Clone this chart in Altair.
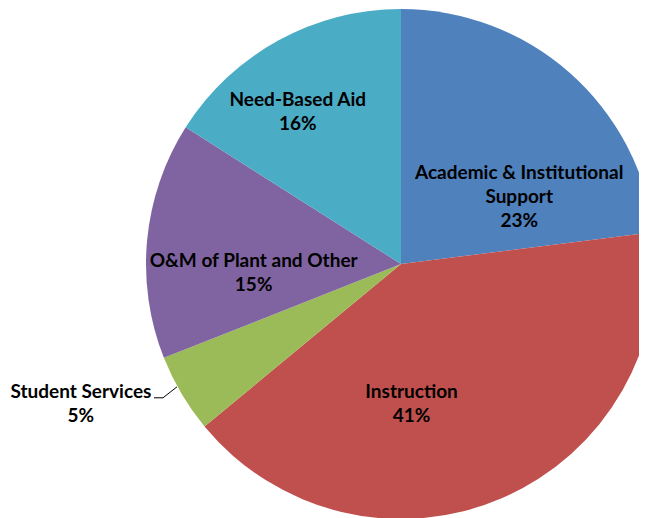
import altair as alt
import pandas as pd
import numpy as np

categories = ["Academic & Institutional Support", "Instruction", "Student Services",
              "O&M of Plant and Other", "Need-Based Aid"]
shares = [23, 41, 5, 15, 16]
label_lines = [["Academic & Institutional", "Support", "23%"],
               ["Instruction", "41%"],
               ["Student Services", "5%"],
               ["O&M of Plant and Other", "15%"],
               ["Need-Based Aid", "16%"]]
colors = ["#4F81BD", "#C0504D", "#9BBB59", "#8064A2", "#4BACC6"]

df = pd.DataFrame({"cat": categories, "share": shares, "order": list(range(len(categories))),
                   "label": label_lines})

CX, CY, R = 393, 256, 255
FONT = "Lato"

theta = alt.Theta("share:Q", stack=True)
order = alt.Order("order:Q")
color = alt.Color("cat:N", scale=alt.Scale(domain=categories, range=colors), legend=None)

pie = alt.Chart(df).mark_arc(outerRadius=R).encode(
    theta=theta, order=order, color=color,
    x=alt.value(CX), y=alt.value(CY))

# per-label style offsets (radius from centre, dx, dy of the first text line)
offsets = {
    "Academic & Institutional Support": (150, 19, 22),
    "Instruction": (150, -49, -10),
    "Student Services": (150, -191, 52),
    "O&M of Plant and Other": (150, 2, 11),
    "Need-Based Aid": (150, -31, -33),
}

layers = [pie]
for c in categories:
    r, dx, dy = offsets[c]
    t = alt.Chart(df).mark_text(radius=r, dx=dx, dy=dy, font=FONT, fontSize=19,
                                fontWeight="bold", color="black", lineHeight=24,
                                align="center", baseline="middle").encode(
        theta=theta, order=order, text="label",
        x=alt.value(CX), y=alt.value(CY),
        opacity=alt.condition(alt.datum.cat == c, alt.value(1), alt.value(0)))
    layers.append(t)

# leader line for Student Services, anchored at the slice's mid angle on the rim
cum = np.cumsum([0] + shares)
i = categories.index("Student Services")
mid = (cum[i] + shares[i] / 2) / sum(shares) * 2 * np.pi
ex, ey = CX + R * np.sin(mid), CY - R * np.cos(mid)
lead = pd.DataFrame({"px": [ex - 27.5, ex - 18.5, ex - 4.5],
                     "py": [ey + 4, ey + 4, ey - 7], "k": [0, 1, 2]})
leader = alt.Chart(lead).mark_line(color="black", strokeWidth=1).encode(
    x=alt.X("px:Q", scale=None), y=alt.Y("py:Q", scale=None), order="k:Q")
layers.append(leader)

chart = alt.layer(*layers).properties(
    width=631, height=510, autosize=alt.AutoSizeParams(type="none"), padding=0
).configure_view(stroke=None)

chart.save("out.html", embed_options={"renderer": "svg", "actions": False})
